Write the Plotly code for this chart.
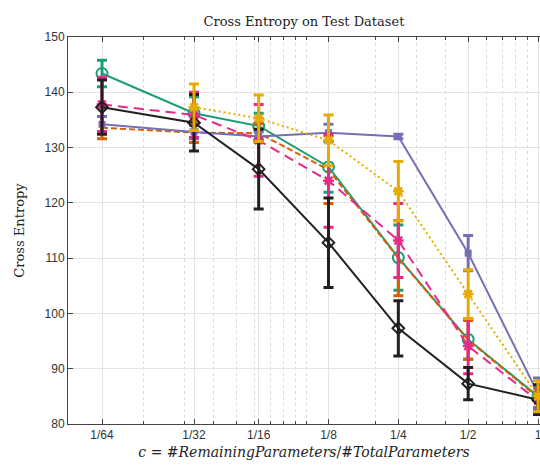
import plotly.graph_objects as go

# x positions (fraction of remaining parameters) and their tick labels
x_vals = [0.0132, 0.0329, 0.0625, 0.125, 0.25, 0.5, 1.0]
x_labels = ["1/64", "1/32", "1/16", "1/8", "1/4", "1/2", "1"]
minor_vals = [0.02, 0.03, 0.04, 0.05, 0.06, 0.07, 0.08, 0.09, 0.1,
              0.2, 0.3, 0.4, 0.6, 0.7, 0.8, 0.9]
y_ticks = [80, 90, 100, 110, 120, 130, 140, 150]

green_mean = [143.4, 136.2, 133.9, 126.5, 110.1, 95.3, 85.0]
green_err = [2.4, 3.0, 2.3, 4.6, 5.9, 3.6, 2.0]

orange_mean = [133.6, 132.7, 132.6, 126.0, 110.0, 95.2, 84.8]
orange_err = [2.0, 1.8, 1.7, 6.1, 6.8, 3.5, 2.0]

purple_mean = [134.2, 132.8, 132.0, 132.7, 132.0, 110.9, 85.5]
purple_err = [1.4, 1.2, 0.8, 1.5, 0.4, 3.2, 2.8]

pink_mean = [137.8, 135.9, 131.3, 124.0, 113.2, 94.1, 84.2]
pink_err = [4.9, 4.1, 6.5, 8.4, 6.7, 5.0, 2.0]

black_mean = [137.3, 134.5, 126.1, 112.8, 97.3, 87.3, 84.4]
black_err = [4.9, 5.1, 7.2, 8.1, 5.0, 2.9, 2.7]

yellow_mean = [None, 137.3, 135.3, 131.3, 122.1, 103.5, 85.0]
yellow_err = [None, 4.2, 4.2, 4.6, 5.4, 4.4, 2.8]

series = [
    dict(y=green_mean, e=green_err, c="#1b9e77", dash="solid",
         m=dict(symbol="circle-open", size=11, line=dict(width=2))),
    dict(y=orange_mean, e=orange_err, c="#d95f02", dash="6px,3px",
         m=dict(symbol="line-ew", size=1, line=dict(width=0))),
    dict(y=purple_mean, e=purple_err, c="#7570b3", dash="solid",
         m=dict(symbol="square", size=7)),
    dict(y=pink_mean, e=pink_err, c="#e7298a", dash="10px,6px",
         m=dict(symbol="asterisk-open", size=9, line=dict(width=2.5))),
    dict(y=black_mean, e=black_err, c="#231f20", dash="solid",
         m=dict(symbol="diamond-open", size=9, line=dict(width=2))),
    dict(y=yellow_mean, e=yellow_err, c="#e6ab02", dash="2px,3px",
         m=dict(symbol="asterisk-open", size=9, line=dict(width=2.5))),
]

fig = go.Figure()
for s in series:
    mk = dict(s["m"])
    mk["color"] = s["c"]
    if "line" in mk:
        mk["line"] = dict(mk["line"], color=s["c"])
    fig.add_trace(go.Scatter(
        x=x_vals, y=s["y"], mode="lines+markers",
        line=dict(color=s["c"], width=2, dash=s["dash"]),
        marker=mk,
        error_y=dict(type="data", array=s["e"], color=s["c"],
                     thickness=3, width=5),
        connectgaps=False, showlegend=False, hoverinfo="skip",
    ))

tick_font = dict(family="Liberation Sans, Arial, sans-serif", size=12, color="#333333")
serif = "DejaVu Serif, Liberation Serif, serif"

fig.update_layout(
    width=540, height=465,
    margin=dict(l=68, r=0, t=37, b=41, autoexpand=False),
    paper_bgcolor="white", plot_bgcolor="white",
    title=dict(text="Cross Entropy on Test Dataset", x=0.5, xref="paper",
               xanchor="center", y=0.953, yref="container", yanchor="middle",
               font=dict(family=serif, size=13, color="#222222")),
    xaxis=dict(
        type="log", range=[-2.026, 0.0086], automargin=False,
        tickmode="array", tickvals=x_vals, ticktext=x_labels,
        ticklabeloverflow="allow",
        ticks="inside", ticklen=5, tickcolor="#444444", tickwidth=1,
        showline=True, linecolor="#444444", linewidth=1, mirror="ticks",
        showgrid=True, gridcolor="#e3e3e3", gridwidth=1,
        tickfont=tick_font, zeroline=False,
        minor=dict(tickmode="array", tickvals=minor_vals, ticks="inside",
                   ticklen=3, tickcolor="#444444", showgrid=True,
                   gridcolor="#d9d9d9", griddash="dot", gridwidth=1),
        title=dict(text="<i>c</i> = #<i>RemainingParameters</i>/#<i>TotalParameters</i>",
                   font=dict(family=serif, size=14, color="#222222"), standoff=5),
    ),
    yaxis=dict(
        range=[80, 150], tickmode="array", tickvals=y_ticks, automargin=False,
        ticks="inside", ticklen=5, tickcolor="#444444",
        showline=True, linecolor="#444444", linewidth=1,
        showgrid=True, gridcolor="#e3e3e3", gridwidth=1,
        tickfont=tick_font, zeroline=False,
        title=dict(text="Cross Entropy", font=dict(family=serif, size=13, color="#222222"),
                   standoff=17),
    ),
)

fig.write_html("out.html", config={"displayModeBar": False},
               post_script="document.body.style.margin='0';document.body.style.overflow='hidden';")
